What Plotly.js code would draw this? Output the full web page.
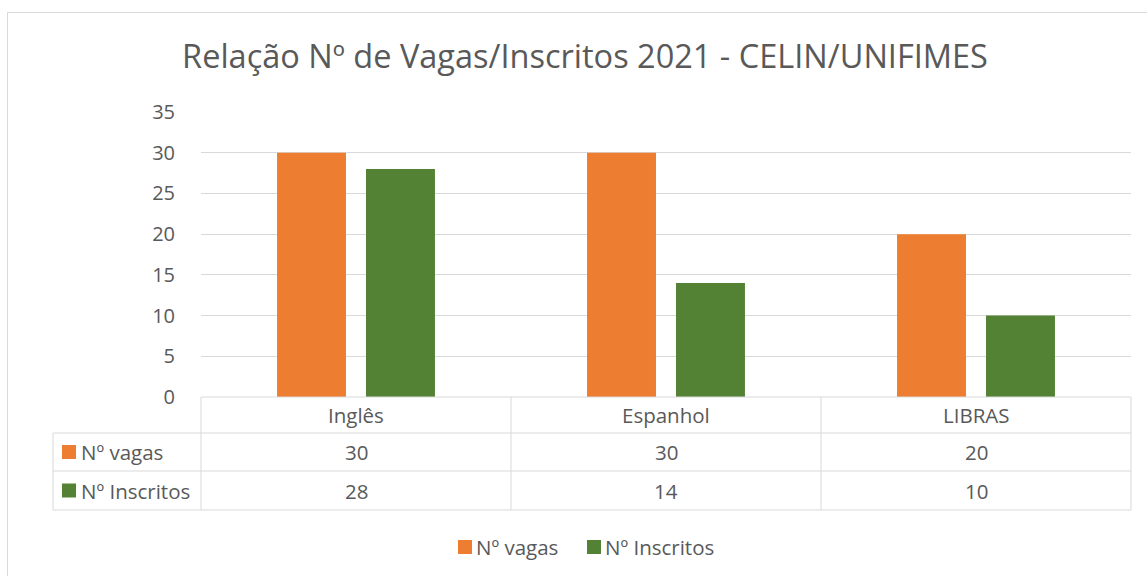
<!DOCTYPE html>
<html><head><meta charset="utf-8">
<script src="https://cdn.plot.ly/plotly-3.0.1.min.js"></script>
<style>body{margin:0;background:#fff}</style></head>
<body><div id="chart" style="width:1147px;height:576px"></div>
<script>
const categories = ['Inglês', 'Espanhol', 'LIBRAS'];
const seriesNames = ['Nº vagas', 'Nº Inscritos'];
const vagas = [30, 30, 20];
const inscritos = [28, 14, 10];
const yTicks = [0, 5, 10, 15, 20, 25, 30, 35];
const titleText = 'Relação Nº de Vagas/Inscritos 2021 - CELIN/UNIFIMES';

const colors = ['#ED7D31', '#548235'];
const seriesValues = [vagas, inscritos];
const txt = '#595959';
const grid = '#D9D9D9';
const FONT = 'Open Sans, sans-serif';
const FS = 20.5;

const W = 1147, H = 576, L = 201, R = 1131, T = 112, B = 397;
const xp = px => (px - L) / (R - L);
const yp = py => (B - py) / (B - T);

const rowTop = [397, 433, 471, 510];
const rowMid = [(rowTop[0] + rowTop[1]) / 2, (rowTop[1] + rowTop[2]) / 2, (rowTop[2] + rowTop[3]) / 2];

const traces = seriesNames.map((n, i) => ({
  type: 'bar', name: n, x: categories, y: seriesValues[i],
  marker: {color: colors[i]}, hoverinfo: 'none'
}));

const line = (x0, y0, x1, y1, xref) => ({type: 'line', xref: xref || 'paper', yref: 'paper',
  x0: x0, x1: x1, y0: y0, y1: y1, line: {color: grid, width: 1}, layer: 'above'});

const shapes = [];
// outer chart border
shapes.push({type: 'rect', xref: 'paper', yref: 'paper', x0: xp(7.5), x1: xp(1170), y0: yp(12.5), y1: yp(600),
  line: {color: grid, width: 1}, fillcolor: 'rgba(0,0,0,0)', layer: 'below'});
// table horizontal lines
shapes.push(line(0, yp(rowTop[0]), 1, yp(rowTop[0])));
for (let r = 1; r < 4; r++) shapes.push(line(xp(53), yp(rowTop[r]), 1, yp(rowTop[r])));
// table vertical lines
shapes.push(line(0, yp(rowTop[0]), 0, yp(rowTop[3])));
shapes.push(line(1, yp(rowTop[0]), 1, yp(rowTop[3])));
shapes.push(line(xp(53), yp(rowTop[1]), xp(53), yp(rowTop[3])));
for (let c = 0; c < categories.length - 1; c++) shapes.push(line(c + 0.5, yp(rowTop[0]), c + 0.5, yp(rowTop[3]), 'x'));

const annotations = [];
categories.forEach((c, i) => {
  annotations.push({xref: 'x', yref: 'paper', x: c, y: yp(rowMid[0]), text: c, showarrow: false,
    font: {family: FONT, size: FS, color: txt}, xanchor: 'center', yanchor: 'middle'});
  seriesValues.forEach((vals, s) => {
    annotations.push({xref: 'x', yref: 'paper', x: c, y: yp(rowMid[s + 1]), text: String(vals[i]), showarrow: false,
      font: {family: FONT, size: FS, color: txt}, xanchor: 'center', yanchor: 'middle'});
  });
});
seriesNames.forEach((n, s) => {
  const cy = rowMid[s + 1];
  shapes.push({type: 'rect', xref: 'paper', yref: 'paper', x0: xp(62), x1: xp(76), y0: yp(cy - 7), y1: yp(cy + 7),
    fillcolor: colors[s], line: {width: 0}});
  annotations.push({xref: 'paper', yref: 'paper', x: xp(79), y: yp(cy), text: n, showarrow: false,
    font: {family: FONT, size: FS, color: txt}, xanchor: 'left', yanchor: 'middle'});
});
// bottom legend
const legX = [458, 587];
const legY = 547;
seriesNames.forEach((n, s) => {
  shapes.push({type: 'rect', xref: 'paper', yref: 'paper', x0: xp(legX[s]), x1: xp(legX[s] + 14), y0: yp(legY - 7), y1: yp(legY + 7),
    fillcolor: colors[s], line: {width: 0}});
  annotations.push({xref: 'paper', yref: 'paper', x: xp(legX[s] + 16), y: yp(legY), text: n, showarrow: false,
    font: {family: FONT, size: FS, color: txt}, xanchor: 'left', yanchor: 'middle'});
});

const layout = {
  width: W, height: H,
  margin: {l: L, r: W - R, t: T, b: H - B, pad: 0},
  paper_bgcolor: '#fff', plot_bgcolor: '#fff',
  title: {text: titleText, font: {family: FONT, size: 32.5, color: txt}, x: 585 / W, xanchor: 'center', xref: 'container',
    y: 1 - 57 / H, yref: 'container', yanchor: 'middle'},
  showlegend: false,
  barmode: 'group', bargap: 0.426, bargroupgap: 0.225,
  xaxis: {type: 'category', range: [-0.5, categories.length - 0.5], showticklabels: false, showgrid: false,
    zeroline: false, showline: false, ticks: '', fixedrange: true},
  yaxis: {range: [0, 35], tickvals: yTicks, ticktext: yTicks.map(String), showgrid: true, gridcolor: grid, gridwidth: 1,
    zeroline: false, showline: false, ticks: 'outside', ticklen: 21, tickcolor: 'rgba(0,0,0,0)',
    tickfont: {family: FONT, size: 20, color: txt}, fixedrange: true},
  shapes: shapes, annotations: annotations
};
Plotly.newPlot('chart', traces, layout, {displayModeBar: false, staticPlot: true});
</script></body></html>
